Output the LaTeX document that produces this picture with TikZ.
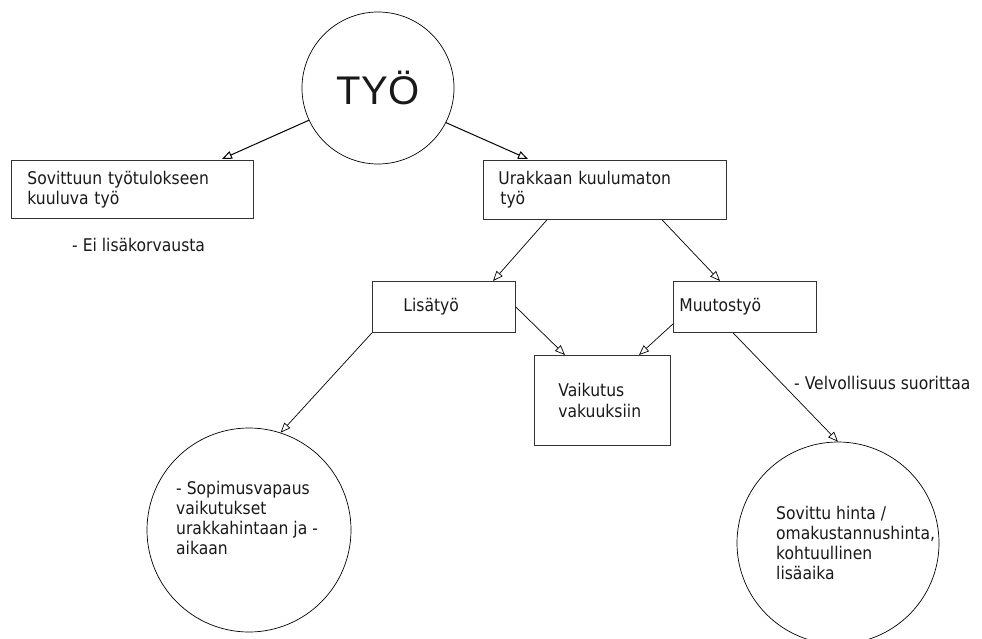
\documentclass[tikz,border=0pt]{standalone}
\usepackage{fontspec}
\setmainfont[FakeStretch=0.89]{DejaVu Sans}
\newfontfamily\tyofont{Liberation Sans}
\usetikzlibrary{arrows.meta,calc}
\begin{document}
\begin{tikzpicture}[x=1pt,y=-1pt,
  every node/.style={text=black!90, font=\fontsize{17.5}{20.2}\selectfont},
  box/.style={draw=black!80, line width=0.8pt, rectangle, inner ysep=0pt, align=left, anchor=north west},
  ring/.style={draw=black, circle, line width=0.7pt, inner sep=0pt},
  plain/.style={inner sep=0pt, align=left},
  conn/.style={line width=0.7pt, -{Triangle[open,length=10pt,width=8pt]}}]
\useasboundingbox (0,0) rectangle (982,639);
% main circle
\node[ring, minimum size=152pt] (tyo) at (378,88) {\tyofont\fontsize{40}{40}\selectfont TYÖ};
% boxes
\node[box, minimum height=58pt, text width=210pt, inner xsep=16pt] (b1) at (11,160) {Sovittuun työtulokseen\\kuuluva työ};
\node[box, minimum height=59pt, text width=213pt, inner xsep=15pt] (b2) at (483,160) {Urakkaan kuulumaton\\\hspace*{2pt}työ};
\node[box, minimum height=51pt, text width=81pt, inner xsep=31pt] (lis) at (372,281) {Lisätyö};
\node[box, minimum height=51pt, text width=131pt, inner xsep=6pt] (muu) at (673,281) {Muutostyö};
\node[box, minimum height=90pt, text width=88pt, inner xsep=24pt] (vak) at (534,355) {Vaikutus\\vakuuksiin};
% lower circles
\node[ring, minimum size=204pt] (lc) at (249,530) {};
\node[plain, anchor=west] (lct) at (176,518) {- Sopimusvapaus\\vaikutukset\\urakkahintaan ja -\\aikaan};
\node[ring, minimum size=202pt] (rc) at (838,543) {};
\node[plain, anchor=west] (rct) at (776,543) {Sovittu hinta /\\omakustannushinta,\\kohtuullinen\\lisäaika};
% free texts
\node[plain, anchor=base west] (ei) at (72,251) {- Ei lisäkorvausta};
\node[plain, anchor=west] (vel) at (794,383) {- Velvollisuus suorittaa};
% connectors
\draw[conn, line width=1pt] (tyo.205) -- ([xshift=211pt,yshift=1pt]b1.north west);
\draw[conn, line width=1pt] (tyo.333) -- ([xshift=45pt,yshift=1pt]b2.north west);
\draw[conn] ([xshift=64pt]b2.south west) -- ([xshift=121pt]lis.north west);
\draw[conn] ([xshift=179pt]b2.south west) -- ([xshift=47pt]muu.north west);
\draw[conn] (lis.east) -- ([xshift=31pt]vak.north west);
\draw[conn] ([yshift=-17pt]muu.west) -- ([xshift=105pt]vak.north west);
\draw[conn] ([xshift=60pt]muu.south west) -- (rc.north);
\draw[conn] (lis.south west) -- (lc.72);
\end{tikzpicture}
\end{document}
